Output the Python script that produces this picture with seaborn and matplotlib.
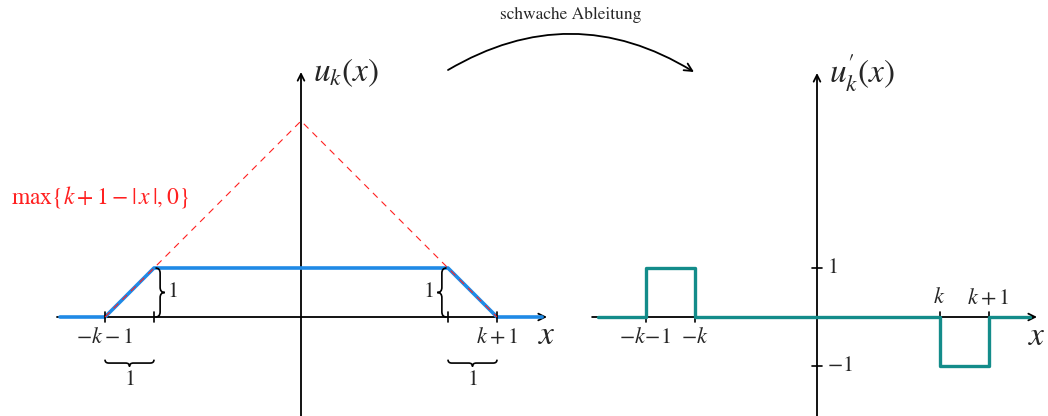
import matplotlib
matplotlib.use("Agg")
import matplotlib.pyplot as plt
from matplotlib.path import Path
from matplotlib.patches import PathPatch, FancyArrowPatch
import seaborn as sns

# Left panel: truncated hat function u_k with k = 3
u_x = [-4.92, -4.0, -3.0, 3.0, 4.0, 4.92]
u_y = [0.0, 0.0, 1.0, 1.0, 0.0, 0.0]
# dashed envelope max{k+1-|x|, 0}
env_x = [-4.0, 0.0, 4.0]
env_y = [0.0, 4.0, 0.0]
left_ticks = [-4.0, -3.0, 3.0, 4.0]

# Right panel: weak derivative u_k' (drawn with k = 2.5)
du_x = [-4.47, -3.5, -3.5, -2.5, -2.5, 2.5, 2.5, 3.5, 3.5, 4.35]
du_y = [0.0, 0.0, 1.0, 1.0, 0.0, 0.0, -1.0, -1.0, 0.0, 0.0]
right_xticks = [-3.5, -2.5, 2.5, 3.5]
right_yticks = [1.0, -1.0]

BLUE = "#1f8ae6"
TEAL = "#138c8a"
RED = "#ff2020"

sns.set_theme(style="white")
plt.rcParams["mathtext.fontset"] = "stix"
plt.rcParams["font.family"] = ["STIXGeneral", "DejaVu Serif"]

W, H = 1048, 416
UNIT = 49.0
fig = plt.figure(figsize=(W / 100, H / 100), dpi=100)

# axes placed so one data unit is 49 px in both panels
axL = fig.add_axes([0, 0, 560 / W, 1])
axL.set_xlim(-301 / UNIT, (560 - 301) / UNIT)
axL.set_ylim(-(H - 317) / UNIT, 317 / UNIT)
axR = fig.add_axes([560 / W, 0, 488 / W, 1])
axR.set_xlim((560 - 817) / UNIT, (1048 - 817) / UNIT)
axR.set_ylim(-(H - 317) / UNIT, 317 / UNIT)
for ax in (axL, axR):
    ax.set_axis_off()

arrow_kw = dict(arrowstyle="->", lw=1.3, color="black", shrinkA=0, shrinkB=0,
                mutation_scale=12)


def draw_axes(ax, x0, x1, y0, y1):
    ax.annotate("", xy=(x1, 0), xytext=(x0, 0), arrowprops=arrow_kw,
                annotation_clip=False, zorder=2)
    ax.annotate("", xy=(0, y1), xytext=(0, y0), arrowprops=arrow_kw,
                annotation_clip=False, zorder=2)


def brace(ax, p0, p1, depth, orient):
    """Curly brace between p0 and p1; orient is 'down', 'right' or 'left'."""
    if orient == "down":
        a, b = p0[0], p1[0]
        c = p0[1]
        mk = lambda t, d: (t, c - d)
    else:
        a, b = p0[1], p1[1]
        c = p0[0]
        s = 1 if orient == "right" else -1
        mk = lambda t, d: (c + s * d, t)
    m = (a + b) / 2
    q = depth * 0.55
    h = depth / 2
    verts = [mk(a, 0), mk(a, h), mk(a + q, h), mk(m - q, h), mk(m, h), mk(m, depth),
             mk(m, h), mk(m + q, h), mk(b - q, h), mk(b, h), mk(b, 0)]
    codes = [Path.MOVETO, Path.CURVE3, Path.CURVE3, Path.LINETO, Path.CURVE3,
             Path.CURVE3, Path.CURVE3, Path.CURVE3, Path.LINETO, Path.CURVE3,
             Path.CURVE3]
    ax.add_patch(PathPatch(Path(verts, codes), fill=False, lw=1.2,
                           edgecolor="black", zorder=4))


fs = 16
big = 24

# ---------- left panel ----------
draw_axes(axL, -4.98, 5.02, -2.1, 5.0)
sns.lineplot(x=u_x, y=u_y, ax=axL, color=BLUE, lw=2.6, sort=False,
             estimator=None, zorder=3)
sns.lineplot(x=env_x, y=env_y, ax=axL, color=RED, lw=0.8, sort=False,
             estimator=None, zorder=5, linestyle=(0, (6, 5)))
for t in left_ticks:
    axL.plot([t, t], [-0.1, 0.1], color="black", lw=1.2, zorder=4)

axL.text(left_ticks[0], -0.42, r"$-k-1$", ha="center", va="center", fontsize=fs)
axL.text(left_ticks[3], -0.42, r"$k+1$", ha="center", va="center", fontsize=fs)
for a, b in ((left_ticks[0], left_ticks[1]), (left_ticks[2], left_ticks[3])):
    brace(axL, (a, -0.87), (b, -0.87), 0.14, "down")
    axL.text((a + b) / 2, -1.09, "$1$", ha="center", va="top", fontsize=fs)
brace(axL, (left_ticks[1] + 0.03, 0.0), (left_ticks[1] + 0.03, 1.0), 0.19, "right")
axL.text(left_ticks[1] + 0.38, 0.5, "$1$", ha="center", va="center", fontsize=fs)
brace(axL, (left_ticks[2] - 0.03, 0.0), (left_ticks[2] - 0.03, 1.0), 0.19, "left")
axL.text(left_ticks[2] - 0.4, 0.5, "$1$", ha="center", va="center", fontsize=fs)

axL.text(0.24, 4.98, r"$u_k(x)$", ha="left", va="center", fontsize=big)
axL.text(5.02, -0.4, r"$x$", ha="center", va="center", fontsize=big)
axL.text(-4.1, 2.45, r"$\max\{k+1-|\,x\,|,0\}$", ha="center", va="center",
         fontsize=17, color=RED)

# ---------- right panel ----------
draw_axes(axR, -4.59, 4.49, -2.1, 4.98)
sns.lineplot(x=du_x, y=du_y, ax=axR, color=TEAL, lw=2.4, sort=False,
             estimator=None, zorder=3)
for t in right_xticks:
    axR.plot([t, t], [-0.1, 0.1], color="black", lw=1.2, zorder=2)
for t in right_yticks:
    axR.plot([-0.1, 0.1], [t, t], color="black", lw=1.2, zorder=2)

axR.text(right_xticks[0], -0.42, r"$-k\!-\!1$", ha="center", va="center", fontsize=fs)
axR.text(right_xticks[1], -0.42, r"$-k$", ha="center", va="center", fontsize=fs)
axR.text(right_xticks[2], 0.38, r"$k$", ha="center", va="center", fontsize=fs)
axR.text(right_xticks[3], 0.38, r"$k+1$", ha="center", va="center", fontsize=fs)
axR.text(0.2, right_yticks[0], "$1$", ha="left", va="center", fontsize=fs)
axR.text(0.2, right_yticks[1], "$-1$", ha="left", va="center", fontsize=fs)
axR.text(0.25, 4.98, r"$u_k^{\prime}(x)$", ha="left", va="center", fontsize=big)
axR.text(4.49, -0.42, r"$x$", ha="center", va="center", fontsize=big)

# ---------- connecting arrow ----------
fig.text(571 / W, 1 - 15 / H, "schwache Ableitung", ha="center", va="center",
         fontsize=12.5)
fig.patches.append(FancyArrowPatch(
    (448 / W, 1 - 70 / H), (694 / W, 1 - 72 / H), transform=fig.transFigure,
    connectionstyle="arc3,rad=-0.3", arrowstyle="->", lw=1.3, color="black",
    mutation_scale=14, shrinkA=0, shrinkB=0))

fig.savefig("out.png", dpi=100, facecolor="white")
